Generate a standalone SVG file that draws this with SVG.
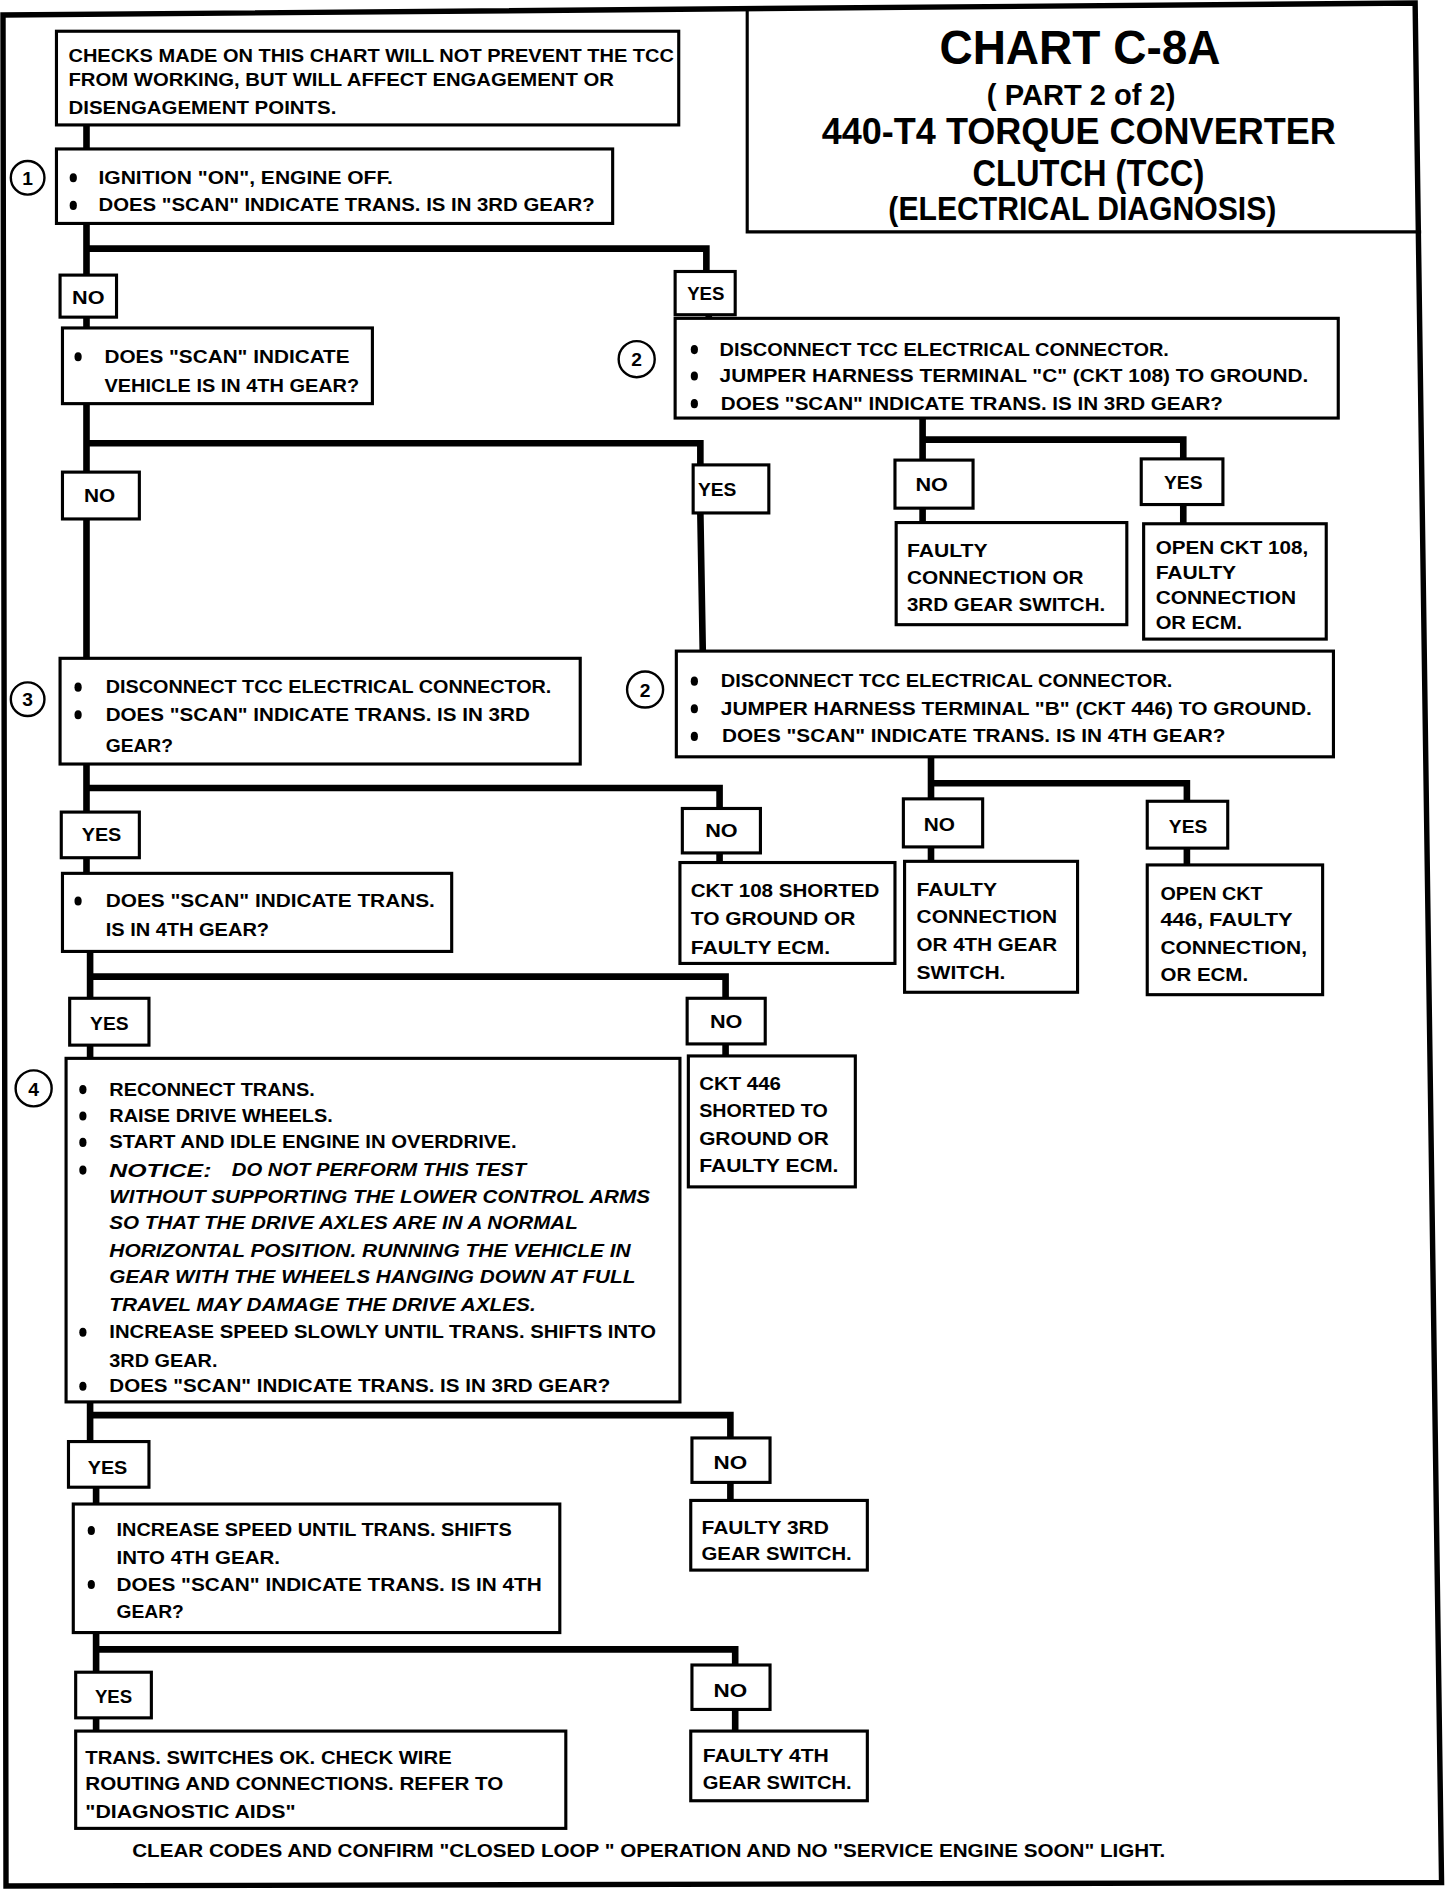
<svg xmlns="http://www.w3.org/2000/svg" width="1456" height="1890" viewBox="0 0 1456 1890">
<style>
.box{fill:#fff;stroke:#000;stroke-width:2.6}
.frame{fill:none;stroke:#000;stroke-width:4.5}
.conn{fill:none;stroke:#000;stroke-width:5.5;stroke-linecap:square;stroke-linejoin:miter}
.t{font-family:"Liberation Sans",Arial,sans-serif;font-weight:bold;font-size:15.5px;fill:#000}
.it{font-style:italic}
.lb{font-family:"Liberation Sans",Arial,sans-serif;font-weight:bold;font-size:15.5px;fill:#000;text-anchor:middle}
.num{font-family:"Liberation Sans",Arial,sans-serif;font-weight:bold;font-size:16px;fill:#000;text-anchor:middle}
.ttl{font-family:"Liberation Sans",Arial,sans-serif;font-weight:bold;fill:#000;text-anchor:middle}
.circ{fill:#fff;stroke:#000;stroke-width:2}
.bul{fill:#000}
</style>
<rect width="1456" height="1890" fill="#fff"/>
<g transform="scale(1.2013)">
<polygon class="frame" points="2.5,12.5 1178,2.5 1200,1567 5,1570"/>

<g id="title">
<polyline class="box" style="fill:none" points="622,8 622,193 1183,193"/>
<text class="ttl" x="899" y="53" font-size="40" textLength="234" lengthAdjust="spacingAndGlyphs">CHART C-8A</text>
<text class="ttl" x="900" y="87" font-size="24" textLength="157" lengthAdjust="spacingAndGlyphs">( PART 2 of 2)</text>
<text class="ttl" x="898" y="120" font-size="31" textLength="428" lengthAdjust="spacingAndGlyphs">440-T4  TORQUE CONVERTER</text>
<text class="ttl" x="906" y="155" font-size="31" textLength="193" lengthAdjust="spacingAndGlyphs">CLUTCH (TCC)</text>
<text class="ttl" x="901" y="183" font-size="27" textLength="323" lengthAdjust="spacingAndGlyphs">(ELECTRICAL DIAGNOSIS)</text>
</g>

<g id="connectors">
<path class="conn" d="M72,104 V124"/>
<path class="conn" d="M72,186 V229 M72,207 H588 V226"/>
<path class="conn" d="M72,264 V273 M590,262 V265"/>
<path class="conn" d="M72,336 V393 M72,369 H583 V387"/>
<path class="conn" d="M768,348 V383 M768,366 H985 V382"/>
<path class="conn" d="M768,423 V435 M985,420 V436"/>
<path class="conn" d="M72,432 V548 M583,427 L585,542"/>
<path class="conn" d="M775,630 V665 M775,652 H988 V667"/>
<path class="conn" d="M775,705 V717 M988,706 V720"/>
<path class="conn" d="M72,636 V676 M72,656 H599 V673"/>
<path class="conn" d="M72,714 V727 M599,710 V718"/>
<path class="conn" d="M75,792 V831 M75,813 H604 V831"/>
<path class="conn" d="M75,870 V881 M604,869 V879"/>
<path class="conn" d="M75,1167 V1200 M75,1178 H608 V1197"/>
<path class="conn" d="M80,1238 V1252 M608,1234 V1249"/>
<path class="conn" d="M80,1359 V1392 M80,1373 H612 V1386"/>
<path class="conn" d="M80,1430 V1441 M612,1423 V1441"/>
</g>

<g id="note">
<rect class="box" x="47" y="26" width="518" height="78"/>
<text class="t" x="57" y="52" textLength="504" lengthAdjust="spacingAndGlyphs">CHECKS MADE ON THIS  CHART WILL  NOT PREVENT THE TCC</text>
<text class="t" x="57" y="72" textLength="454" lengthAdjust="spacingAndGlyphs">FROM WORKING, BUT WILL AFFECT ENGAGEMENT OR</text>
<text class="t" x="57" y="95" textLength="223" lengthAdjust="spacingAndGlyphs">DISENGAGEMENT POINTS.</text>
</g>

<g id="step1">
<circle class="circ" cx="23" cy="148" r="14"/>
<text class="num" x="23" y="154">1</text>
<rect class="box" x="47" y="124" width="463" height="62"/>
<ellipse class="bul" cx="61" cy="148" rx="3" ry="3.8"/>
<ellipse class="bul" cx="61" cy="171" rx="3" ry="3.8"/>
<text class="t" x="82" y="153" textLength="245" lengthAdjust="spacingAndGlyphs">IGNITION "ON", ENGINE OFF.</text>
<text class="t" x="82" y="176" textLength="413" lengthAdjust="spacingAndGlyphs">DOES "SCAN" INDICATE TRANS. IS IN 3RD GEAR?</text>
</g>

<g id="no1"><rect class="box" x="50" y="229" width="47" height="35"/><text class="lb" x="73.5" y="253" textLength="27" lengthAdjust="spacingAndGlyphs">NO</text></g>
<g id="yes1"><rect class="box" x="562" y="226" width="50" height="36"/><text class="lb" x="587.5" y="250" textLength="31" lengthAdjust="spacingAndGlyphs">YES</text></g>

<g id="vehicle4th">
<rect class="box" x="52" y="273" width="258" height="63"/>
<ellipse class="bul" cx="65" cy="297" rx="3" ry="3.8"/>
<text class="t" x="87" y="302" textLength="204" lengthAdjust="spacingAndGlyphs">DOES "SCAN" INDICATE</text>
<text class="t" x="87" y="326" textLength="212" lengthAdjust="spacingAndGlyphs">VEHICLE IS IN 4TH GEAR?</text>
</g>

<g id="step2a">
<circle class="circ" cx="530" cy="299" r="15"/>
<text class="num" x="530" y="305">2</text>
<rect class="box" x="562" y="265" width="552" height="83"/>
<ellipse class="bul" cx="578" cy="291" rx="3" ry="3.8"/>
<ellipse class="bul" cx="578" cy="313" rx="3" ry="3.8"/>
<ellipse class="bul" cx="578" cy="336" rx="3" ry="3.8"/>
<text class="t" x="599" y="296" textLength="374" lengthAdjust="spacingAndGlyphs">DISCONNECT TCC ELECTRICAL CONNECTOR.</text>
<text class="t" x="599" y="318" textLength="490" lengthAdjust="spacingAndGlyphs">JUMPER HARNESS TERMINAL "C" (CKT 108) TO GROUND.</text>
<text class="t" x="600" y="341" textLength="418" lengthAdjust="spacingAndGlyphs">DOES "SCAN" INDICATE TRANS. IS IN 3RD GEAR?</text>
</g>

<g id="no2"><rect class="box" x="52" y="393" width="64" height="39"/><text class="lb" x="83" y="418" textLength="26" lengthAdjust="spacingAndGlyphs">NO</text></g>
<g id="yes2"><rect class="box" x="577" y="387" width="63" height="40"/><text class="lb" x="597" y="413" textLength="32" lengthAdjust="spacingAndGlyphs">YES</text></g>
<g id="no3"><rect class="box" x="745" y="383" width="65" height="40"/><text class="lb" x="775.5" y="409" textLength="27" lengthAdjust="spacingAndGlyphs">NO</text></g>
<g id="yes3"><rect class="box" x="950" y="382" width="68" height="38"/><text class="lb" x="985" y="407" textLength="32" lengthAdjust="spacingAndGlyphs">YES</text></g>

<g id="faulty3rdconn">
<rect class="box" x="746" y="435" width="192" height="85"/>
<text class="t" x="755" y="464" textLength="67" lengthAdjust="spacingAndGlyphs">FAULTY</text>
<text class="t" x="755" y="486" textLength="147" lengthAdjust="spacingAndGlyphs">CONNECTION OR</text>
<text class="t" x="755" y="509" textLength="165" lengthAdjust="spacingAndGlyphs">3RD GEAR SWITCH.</text>
</g>

<g id="open108">
<rect class="box" x="952" y="436" width="152" height="96"/>
<text class="t" x="962" y="461" textLength="127" lengthAdjust="spacingAndGlyphs">OPEN CKT 108,</text>
<text class="t" x="962" y="482" textLength="67" lengthAdjust="spacingAndGlyphs">FAULTY</text>
<text class="t" x="962" y="503" textLength="117" lengthAdjust="spacingAndGlyphs">CONNECTION</text>
<text class="t" x="962" y="524" textLength="72" lengthAdjust="spacingAndGlyphs">OR ECM.</text>
</g>

<g id="step3">
<circle class="circ" cx="23" cy="582" r="14"/>
<text class="num" x="23" y="588">3</text>
<rect class="box" x="50" y="548" width="433" height="88"/>
<ellipse class="bul" cx="65" cy="572" rx="3" ry="3.8"/>
<ellipse class="bul" cx="65" cy="595" rx="3" ry="3.8"/>
<text class="t" x="88" y="577" textLength="371" lengthAdjust="spacingAndGlyphs">DISCONNECT TCC ELECTRICAL CONNECTOR.</text>
<text class="t" x="88" y="600" textLength="353" lengthAdjust="spacingAndGlyphs">DOES "SCAN" INDICATE TRANS. IS IN 3RD</text>
<text class="t" x="88" y="626" textLength="56" lengthAdjust="spacingAndGlyphs">GEAR?</text>
</g>

<g id="step2b">
<circle class="circ" cx="537" cy="574" r="15"/>
<text class="num" x="537" y="580">2</text>
<rect class="box" x="563" y="542" width="547" height="88"/>
<ellipse class="bul" cx="578" cy="567" rx="3" ry="3.8"/>
<ellipse class="bul" cx="578" cy="590" rx="3" ry="3.8"/>
<ellipse class="bul" cx="578" cy="613" rx="3" ry="3.8"/>
<text class="t" x="600" y="572" textLength="376" lengthAdjust="spacingAndGlyphs">DISCONNECT TCC ELECTRICAL CONNECTOR.</text>
<text class="t" x="600" y="595" textLength="492" lengthAdjust="spacingAndGlyphs">JUMPER HARNESS TERMINAL "B" (CKT 446) TO GROUND.</text>
<text class="t" x="601" y="618" textLength="419" lengthAdjust="spacingAndGlyphs">DOES "SCAN" INDICATE TRANS. IS IN 4TH GEAR?</text>
</g>

<g id="yes4"><rect class="box" x="51" y="676" width="65" height="38"/><text class="lb" x="84.5" y="700" textLength="33" lengthAdjust="spacingAndGlyphs">YES</text></g>
<g id="no4"><rect class="box" x="568" y="673" width="65" height="37"/><text class="lb" x="600.5" y="697" textLength="27" lengthAdjust="spacingAndGlyphs">NO</text></g>
<g id="no5"><rect class="box" x="752" y="665" width="66" height="40"/><text class="lb" x="782" y="692" textLength="26" lengthAdjust="spacingAndGlyphs">NO</text></g>
<g id="yes5"><rect class="box" x="955" y="667" width="67" height="39"/><text class="lb" x="989" y="693" textLength="32" lengthAdjust="spacingAndGlyphs">YES</text></g>

<g id="ckt108short">
<rect class="box" x="566" y="718" width="179" height="84"/>
<text class="t" x="575" y="747" textLength="157" lengthAdjust="spacingAndGlyphs">CKT 108 SHORTED</text>
<text class="t" x="575" y="770" textLength="137" lengthAdjust="spacingAndGlyphs">TO GROUND OR</text>
<text class="t" x="575" y="794" textLength="116" lengthAdjust="spacingAndGlyphs">FAULTY ECM.</text>
</g>

<g id="faulty4thconn">
<rect class="box" x="753" y="717" width="144" height="109"/>
<text class="t" x="763" y="746" textLength="67" lengthAdjust="spacingAndGlyphs">FAULTY</text>
<text class="t" x="763" y="768" textLength="117" lengthAdjust="spacingAndGlyphs">CONNECTION</text>
<text class="t" x="763" y="792" textLength="117" lengthAdjust="spacingAndGlyphs">OR 4TH GEAR</text>
<text class="t" x="763" y="815" textLength="74" lengthAdjust="spacingAndGlyphs">SWITCH.</text>
</g>

<g id="open446">
<rect class="box" x="955" y="720" width="146" height="108"/>
<text class="t" x="966" y="749" textLength="85" lengthAdjust="spacingAndGlyphs">OPEN CKT</text>
<text class="t" x="966" y="771" textLength="110" lengthAdjust="spacingAndGlyphs">446, FAULTY</text>
<text class="t" x="966" y="794" textLength="122" lengthAdjust="spacingAndGlyphs">CONNECTION,</text>
<text class="t" x="966" y="817" textLength="73" lengthAdjust="spacingAndGlyphs">OR ECM.</text>
</g>

<g id="trans4th">
<rect class="box" x="52" y="727" width="324" height="65"/>
<ellipse class="bul" cx="65" cy="750" rx="3" ry="3.8"/>
<text class="t" x="88" y="755" textLength="274" lengthAdjust="spacingAndGlyphs">DOES "SCAN" INDICATE TRANS.</text>
<text class="t" x="88" y="779" textLength="136" lengthAdjust="spacingAndGlyphs">IS IN 4TH GEAR?</text>
</g>

<g id="yes6"><rect class="box" x="58" y="831" width="66" height="39"/><text class="lb" x="91" y="857" textLength="32" lengthAdjust="spacingAndGlyphs">YES</text></g>
<g id="no6"><rect class="box" x="572" y="831" width="65" height="38"/><text class="lb" x="604.5" y="856" textLength="27" lengthAdjust="spacingAndGlyphs">NO</text></g>

<g id="ckt446short">
<rect class="box" x="573" y="879" width="139" height="109"/>
<text class="t" x="582" y="907" textLength="68" lengthAdjust="spacingAndGlyphs">CKT 446</text>
<text class="t" x="582" y="930" textLength="107" lengthAdjust="spacingAndGlyphs">SHORTED TO</text>
<text class="t" x="582" y="953" textLength="108" lengthAdjust="spacingAndGlyphs">GROUND OR</text>
<text class="t" x="582" y="976" textLength="116" lengthAdjust="spacingAndGlyphs">FAULTY ECM.</text>
</g>

<g id="step4">
<circle class="circ" cx="28" cy="906" r="15"/>
<text class="num" x="28" y="912">4</text>
<rect class="box" x="55" y="881" width="511" height="286"/>
<ellipse class="bul" cx="69" cy="907" rx="3" ry="3.8"/>
<ellipse class="bul" cx="69" cy="929" rx="3" ry="3.8"/>
<ellipse class="bul" cx="69" cy="951" rx="3" ry="3.8"/>
<ellipse class="bul" cx="69" cy="974" rx="3" ry="3.8"/>
<ellipse class="bul" cx="69" cy="1109" rx="3" ry="3.8"/>
<ellipse class="bul" cx="69" cy="1154" rx="3" ry="3.8"/>
<text class="t" x="91" y="912" textLength="171" lengthAdjust="spacingAndGlyphs">RECONNECT TRANS.</text>
<text class="t" x="91" y="934" textLength="186" lengthAdjust="spacingAndGlyphs">RAISE DRIVE WHEELS.</text>
<text class="t" x="91" y="956" textLength="339" lengthAdjust="spacingAndGlyphs">START AND IDLE ENGINE IN OVERDRIVE.</text>
<text class="t it" x="91" y="980" font-size="20" textLength="85" lengthAdjust="spacingAndGlyphs">NOTICE:</text>
<text class="t it" x="193" y="979" textLength="245" lengthAdjust="spacingAndGlyphs">DO NOT PERFORM THIS TEST</text>
<text class="t it" x="91" y="1001" textLength="450" lengthAdjust="spacingAndGlyphs">WITHOUT SUPPORTING THE LOWER CONTROL ARMS</text>
<text class="t it" x="91" y="1023" textLength="390" lengthAdjust="spacingAndGlyphs">SO THAT THE DRIVE AXLES ARE IN A NORMAL</text>
<text class="t it" x="91" y="1046" textLength="434" lengthAdjust="spacingAndGlyphs">HORIZONTAL POSITION.  RUNNING THE VEHICLE IN</text>
<text class="t it" x="91" y="1068" textLength="438" lengthAdjust="spacingAndGlyphs">GEAR WITH THE WHEELS HANGING DOWN AT FULL</text>
<text class="t it" x="91" y="1091" textLength="355" lengthAdjust="spacingAndGlyphs">TRAVEL MAY DAMAGE THE DRIVE AXLES.</text>
<text class="t" x="91" y="1114" textLength="455" lengthAdjust="spacingAndGlyphs">INCREASE SPEED SLOWLY UNTIL TRANS. SHIFTS INTO</text>
<text class="t" x="91" y="1138" textLength="90" lengthAdjust="spacingAndGlyphs">3RD GEAR.</text>
<text class="t" x="91" y="1159" textLength="417" lengthAdjust="spacingAndGlyphs">DOES "SCAN" INDICATE TRANS. IS IN 3RD GEAR?</text>
</g>

<g id="yes7"><rect class="box" x="57" y="1200" width="67" height="38"/><text class="lb" x="89.5" y="1227" textLength="33" lengthAdjust="spacingAndGlyphs">YES</text></g>
<g id="no7"><rect class="box" x="576" y="1197" width="65" height="37"/><text class="lb" x="608" y="1223" textLength="28" lengthAdjust="spacingAndGlyphs">NO</text></g>

<g id="faulty3rdsw">
<rect class="box" x="575" y="1249" width="147" height="58"/>
<text class="t" x="584" y="1277" textLength="106" lengthAdjust="spacingAndGlyphs">FAULTY 3RD</text>
<text class="t" x="584" y="1299" textLength="125" lengthAdjust="spacingAndGlyphs">GEAR SWITCH.</text>
</g>

<g id="shift4th">
<rect class="box" x="61" y="1252" width="405" height="107"/>
<ellipse class="bul" cx="76" cy="1274" rx="3" ry="3.8"/>
<ellipse class="bul" cx="76" cy="1319" rx="3" ry="3.8"/>
<text class="t" x="97" y="1279" textLength="329" lengthAdjust="spacingAndGlyphs">INCREASE SPEED UNTIL TRANS. SHIFTS</text>
<text class="t" x="97" y="1302" textLength="136" lengthAdjust="spacingAndGlyphs">INTO 4TH GEAR.</text>
<text class="t" x="97" y="1324" textLength="354" lengthAdjust="spacingAndGlyphs">DOES "SCAN" INDICATE TRANS. IS IN 4TH</text>
<text class="t" x="97" y="1347" textLength="56" lengthAdjust="spacingAndGlyphs">GEAR?</text>
</g>

<g id="yes8"><rect class="box" x="63" y="1392" width="63" height="38"/><text class="lb" x="94.5" y="1418" textLength="31" lengthAdjust="spacingAndGlyphs">YES</text></g>
<g id="no8"><rect class="box" x="576" y="1386" width="65" height="37"/><text class="lb" x="608" y="1413" textLength="28" lengthAdjust="spacingAndGlyphs">NO</text></g>

<g id="faulty4thsw">
<rect class="box" x="575" y="1441" width="147" height="58"/>
<text class="t" x="585" y="1467" textLength="105" lengthAdjust="spacingAndGlyphs">FAULTY 4TH</text>
<text class="t" x="585" y="1489" textLength="124" lengthAdjust="spacingAndGlyphs">GEAR SWITCH.</text>
</g>

<g id="switchesok">
<rect class="box" x="63" y="1441" width="408" height="81"/>
<text class="t" x="71" y="1468" textLength="305" lengthAdjust="spacingAndGlyphs">TRANS. SWITCHES OK.  CHECK WIRE</text>
<text class="t" x="71" y="1490" textLength="348" lengthAdjust="spacingAndGlyphs">ROUTING AND CONNECTIONS.  REFER TO</text>
<text class="t" x="71" y="1513" textLength="175" lengthAdjust="spacingAndGlyphs">"DIAGNOSTIC AIDS"</text>
</g>

<g id="footer">
<text class="t" x="110" y="1546" textLength="860" lengthAdjust="spacingAndGlyphs">CLEAR CODES AND CONFIRM "CLOSED LOOP " OPERATION AND NO "SERVICE ENGINE SOON" LIGHT.</text>
</g>
</g>
</svg>
